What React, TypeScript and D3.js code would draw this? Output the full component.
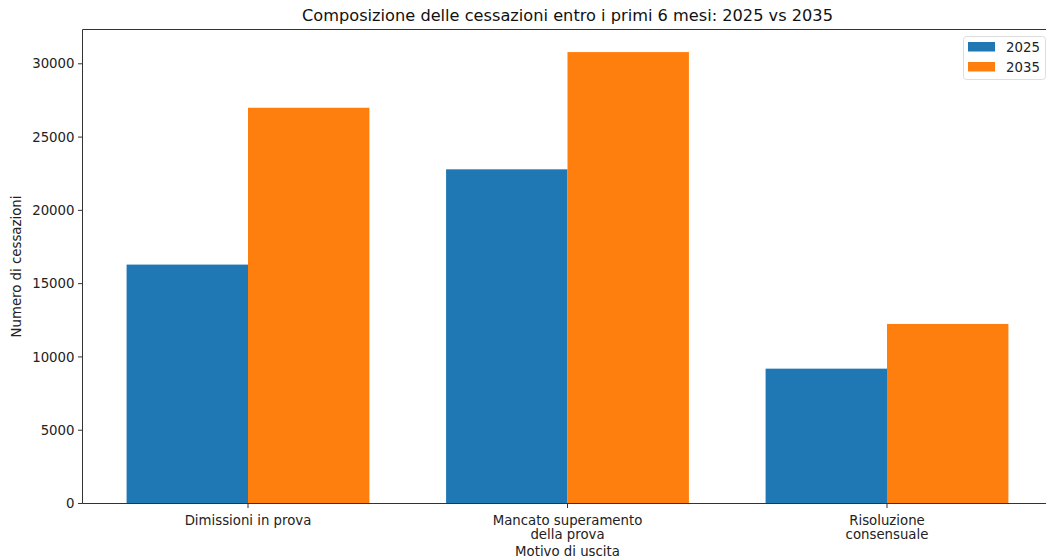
import React from "react";
import * as d3 from "d3";

const categories: string[][] = [
  ["Dimissioni in prova"],
  ["Mancato superamento", "della prova"],
  ["Risoluzione", "consensuale"],
];
const seriesNames = ["2025", "2035"];
const values2025 = [16300, 22800, 9200];
const values2035 = [27000, 30800, 12250];
const yTicks = [0, 5000, 10000, 15000, 20000, 25000, 30000];

const colors = ["#1f77b4", "#ff7f0e"];
const W = 1046;
const H = 560;
const font = "DejaVu Sans, sans-serif";
const fs = 13.3;

export default function App() {
  const left = 82.5, right = 1052.5, top = 29.5, bottom = 503.5;
  const barW = 0.38;
  const n = categories.length;
  const xMin = -barW - 0.05 * (n - 1 + 2 * barW);
  const xMax = n - 1 + barW + 0.05 * (n - 1 + 2 * barW);
  const x = d3.scaleLinear().domain([xMin, xMax]).range([left, right]);
  const maxV = d3.max([...values2025, ...values2035]) as number;
  const y = d3.scaleLinear().domain([0, maxV * 1.05]).range([bottom, top]);
  const series = [values2025, values2035];

  return (
    <svg width={W} height={H} style={{ position: "absolute", left: 0, top: 0, background: "#fff" }} fontFamily={font}>
      <rect x={0} y={0} width={W} height={H} fill="#fff" />
      {series.map((vals, si) =>
        vals.map((v, i) => {
          const x0 = si === 0 ? x(i - barW) : x(i);
          const x1 = si === 0 ? x(i) : x(i + barW);
          return (
            <rect key={`${si}-${i}`} x={x0} y={y(v)} width={x1 - x0} height={y(0) - y(v)} fill={colors[si]} />
          );
        })
      )}
      {/* spines */}
      <line x1={left} x2={left} y1={top} y2={bottom} stroke="#333" strokeWidth={1} />
      <line x1={left} x2={right} y1={bottom} y2={bottom} stroke="#333" strokeWidth={1} />
      <line x1={left} x2={right} y1={top} y2={top} stroke="#333" strokeWidth={1} />
      <line x1={right} x2={right} y1={top} y2={bottom} stroke="#333" strokeWidth={1} />
      {/* y ticks */}
      {yTicks.map((t) => (
        <g key={t}>
          <line x1={left - 4.5} x2={left} y1={y(t)} y2={y(t)} stroke="#333" />
          <text x={left - 8} y={y(t)} dy="0.35em" textAnchor="end" fontSize={fs} fill="#222">
            {t}
          </text>
        </g>
      ))}
      {/* x ticks */}
      {categories.map((lines, i) => (
        <g key={i}>
          <line x1={x(i)} x2={x(i)} y1={bottom} y2={bottom + 4.5} stroke="#333" />
          <text x={x(i)} y={bottom + 21} textAnchor="middle" fontSize={fs} fill="#222">
            {lines.map((l, j) => (
              <tspan key={j} x={x(i)} dy={j === 0 ? 0 : 14.5}>
                {l}
              </tspan>
            ))}
          </text>
        </g>
      ))}
      <text x={x(1)} y={556} textAnchor="middle" fontSize={fs} fill="#222">
        Motivo di uscita
      </text>
      <text transform={`translate(21,${(top + bottom) / 2}) rotate(-90)`} textAnchor="middle" fontSize={fs} fill="#222">
        Numero di cessazioni
      </text>
      <text x={(left + right) / 2} y={21} textAnchor="middle" fontSize={16.2} fill="#111">
        Composizione delle cessazioni entro i primi 6 mesi: 2025 vs 2035
      </text>
      {/* legend */}
      <rect x={963.5} y={36.5} width={82} height={43} rx={3} fill="#fff" fillOpacity={0.8} stroke="#ddd" />
      {seriesNames.map((s, i) => (
        <g key={s}>
          <rect x={968} y={42 + i * 20} width={27} height={9.5} fill={colors[i]} />
          <text x={1006} y={51.5 + i * 20} fontSize={fs} fill="#222">
            {s}
          </text>
        </g>
      ))}
    </svg>
  );
}
